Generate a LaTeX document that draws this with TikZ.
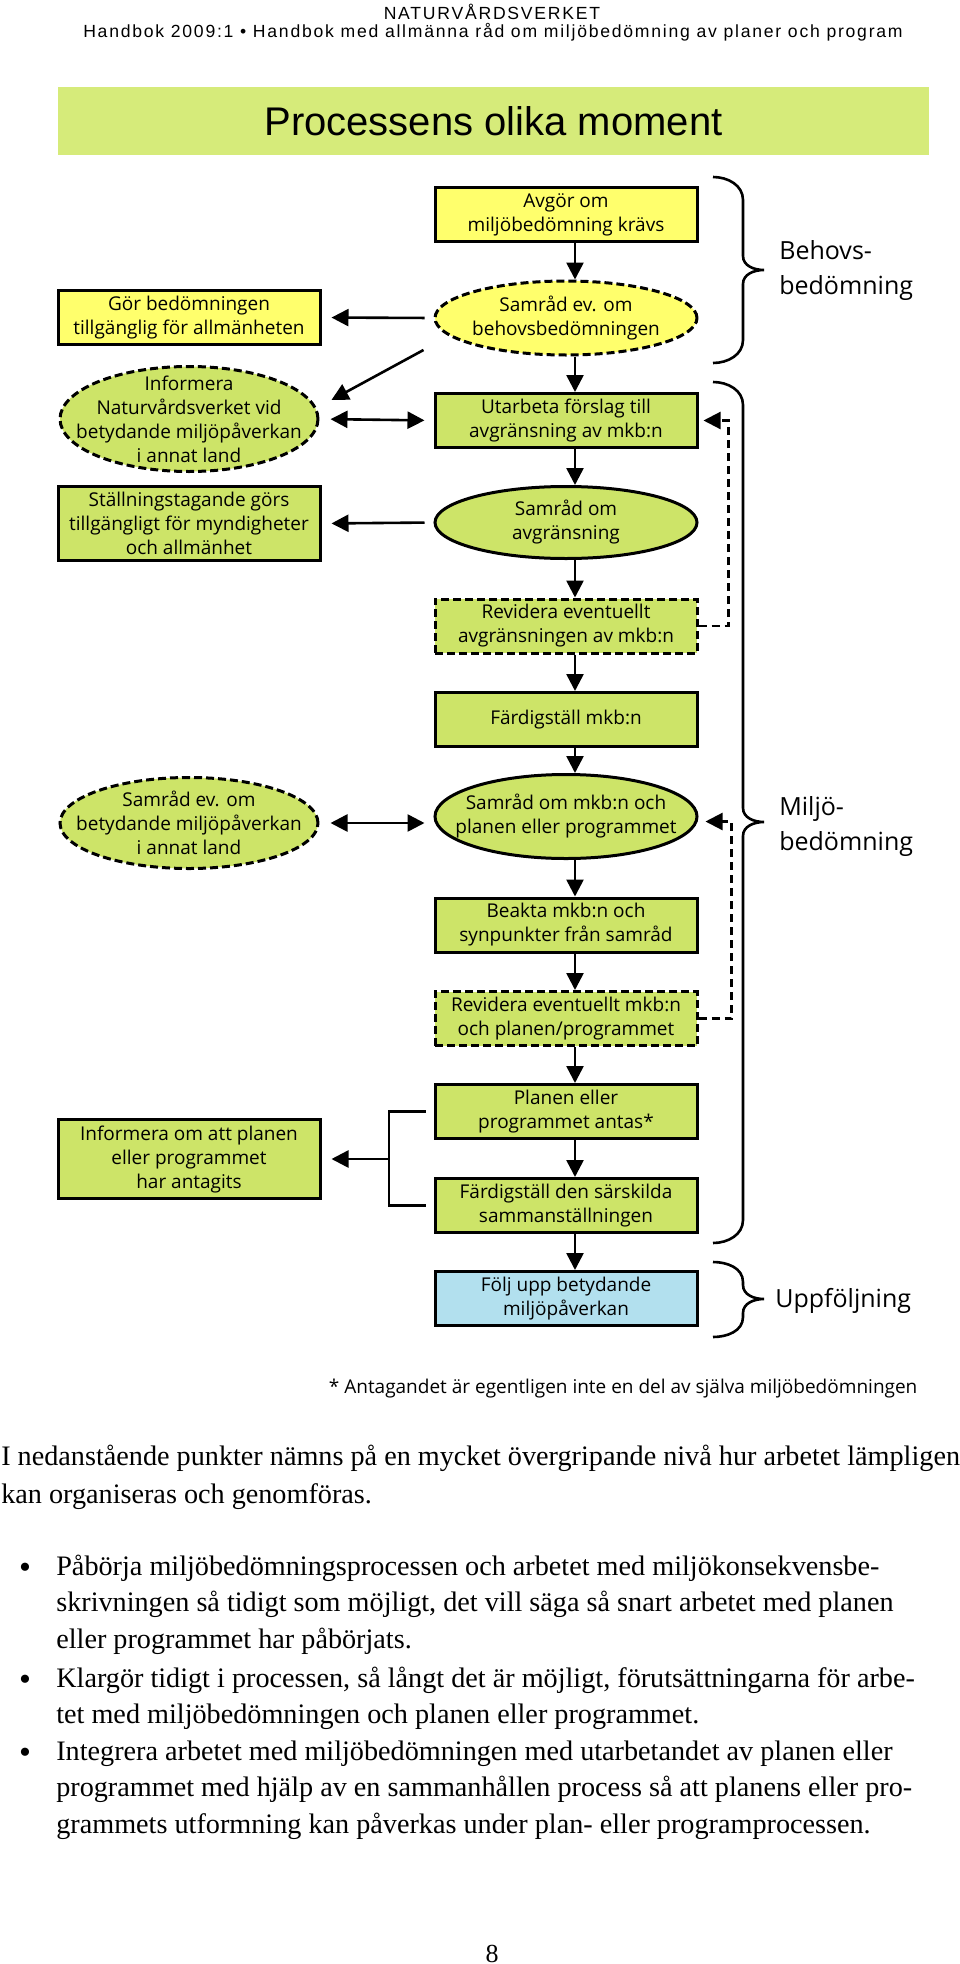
\documentclass[tikz,border=0pt]{standalone}
\usepackage{fontspec}
\setmainfont{Liberation Serif}
\setsansfont{Open Sans}
\newfontfamily\headfont[LetterSpace=10]{Liberation Sans}
\newfontfamily\titlefont{Liberation Sans}
\usetikzlibrary{arrows.meta}
\usetikzlibrary{shapes.geometric}
\usetikzlibrary{calc}
\definecolor{yellow1}{RGB}{255, 255, 108}
\definecolor{green1}{RGB}{205, 228, 104}
\definecolor{green2}{RGB}{214, 235, 122}
\definecolor{blue1}{RGB}{178, 224, 238}

\begin{document}
\begin{tikzpicture}[x=1pt, y=-1pt, line width=2.6pt, >={Triangle[length=17pt,width=17pt]},
  stepbox/.style={draw, rectangle, minimum width=262pt, minimum height=54pt, inner sep=0pt, align=center, line width=3pt, font=\sffamily\fontsize{19}{24}\selectfont},
  talk/.style={draw, ellipse, minimum width=262pt, inner sep=0pt, line width=3pt},
  talktext/.style={align=center, inner sep=0pt, font=\sffamily\fontsize{19}{24}\selectfont},
  maybe/.style={dash pattern=on 8pt off 4pt},
  back/.style={->, dash pattern=on 8pt off 5pt, line width=2.2pt},
  side/.style={anchor=west, align=left, inner sep=0pt, font=\sffamily\fontsize{25}{35}\selectfont},
  body/.style={align=left, inner sep=0pt, font=\fontsize{28.2}{36.5}\selectfont}]
  \useasboundingbox (0,0) rectangle (960,1964);
  \node[font=\headfont\fontsize{17.6}{20}\selectfont] (org) at (492,12) {NATURVÅRDSVERKET};
  \node[font=\headfont\fontsize{17.6}{20}\selectfont] (series) at (493,32) {Handbok 2009:1 • Handbok med allmänna råd om miljöbedömning av planer och program};
  \node[fill=green2, minimum width=871pt, minimum height=68pt, font=\titlefont\fontsize{40}{48}\selectfont] (title) at (493.5,121) {Processens olika moment};
  % main column
  \node[stepbox, fill=yellow1] (avgor) at (566,214.5) {Avgör om\\miljöbedömning krävs};
  \node[talk, maybe, fill=yellow1, minimum height=74pt, label={[talktext]center:{Samråd ev. om\\behovsbedömningen}}] (samradev) at (566,318) {};
  \node[stepbox, fill=green1] (utarbeta) at (566,420.5) {Utarbeta förslag till\\avgränsning av mkb:n};
  \node[talk, fill=green1, minimum height=72pt, label={[talktext]center:{Samråd om\\avgränsning}}] (samravgr) at (566,522.5) {};
  \node[stepbox, maybe, fill=green1] (revid1) at (566,626) {Revidera eventuellt\\avgränsningen av mkb:n};
  \node[stepbox, fill=green1] (fardig) at (566,719.5) {Färdigställ mkb:n};
  \node[talk, fill=green1, minimum height=84pt, label={[talktext]center:{Samråd om mkb:n och\\planen eller programmet}}] (samrmkb) at (566,816.5) {};
  \node[stepbox, fill=green1] (beakta) at (566,925) {Beakta mkb:n och\\synpunkter från samråd};
  \node[stepbox, maybe, fill=green1] (revid2) at (566,1018.5) {Revidera eventuellt mkb:n\\och planen/programmet};
  \node[stepbox, fill=green1] (planen) at (566,1111.5) {Planen eller\\programmet antas*};
  \node[stepbox, fill=green1] (sarskild) at (566,1205.5) {Färdigställ den särskilda\\sammanställningen};
  \node[stepbox, fill=blue1] (foljupp) at (566,1298.5) {Följ upp betydande\\miljöpåverkan};
  % left column
  \node[stepbox, fill=yellow1] (gorbed) at (189,317.5) {Gör bedömningen\\tillgänglig för allmänheten};
  \node[talk, maybe, fill=green1, minimum width=258pt, minimum height=105pt, label={[talktext]center:{Informera\\Naturvårdsverket vid\\betydande miljöpåverkan\\i annat land}}] (infonv) at (189,419) {};
  \node[stepbox, fill=green1, minimum height=74pt] (stalln) at (189,523.5) {Ställningstagande görs\\tillgängligt för myndigheter\\och allmänhet};
  \node[talk, maybe, fill=green1, minimum width=258pt, minimum height=91pt, label={[talktext]center:{Samråd ev. om\\betydande miljöpåverkan\\i annat land}}] (samrbet) at (189,823) {};
  \node[stepbox, fill=green1, minimum height=79pt] (infoantag) at (189,1159) {Informera om att planen\\eller programmet\\har antagits};
  \coordinate (knee) at (389,1159);
  \foreach \from/\to in {avgor/samradev, samradev/utarbeta, utarbeta/samravgr, samravgr/revid1, revid1/fardig, fardig/samrmkb, samrmkb/beakta, beakta/revid2, revid2/planen, planen/sarskild, sarskild/foljupp}
    \draw[->] ([xshift=9pt]\from.south) -- ([xshift=9pt]\to.north);
  \draw[->, shorten <=9pt, shorten >=10pt] (samradev.west) -- (gorbed.east);
  \draw[->] ([shift={(-10,32)}]samradev.west) -- ([shift={(12,-19)}]infonv.east);
  \draw[<->, shorten <=11pt, shorten >=9pt] (infonv.east) -- (utarbeta.west);
  \draw[->, shorten <=9pt, shorten >=10pt] (samravgr.west) -- (stalln.east);
  \draw[<->, shorten <=11pt, shorten >=9pt] (samrbet.east) -- (samrbet.east -| samrmkb.west);
  \draw ([xshift=-8pt]planen.west) -| (knee) |- ([xshift=-8pt]sarskild.west);
  \draw[->, shorten >=10pt] (knee) -- (infoantag.east);
  \draw[back] (revid1.east) -| ($(utarbeta.east)+(30,0)$) -- ([xshift=5pt]utarbeta.east);
  \draw[back] (revid2.east) -| ($(samrmkb.east)+(33,5)$) -- ([shift={(7,5)}]samrmkb.east);
  % braces
  \draw (713,177) to[out=0,in=90] (743,200) -- (743,256) to[out=-90,in=180] (764,270) to[out=180,in=90] (743,284) -- (743,340) to[out=-90,in=0] (713,363);
  \draw (713,382) to[out=0,in=90] (743,405) -- (743,808) to[out=-90,in=180] (764,822) to[out=180,in=90] (743,836) -- (743,1220) to[out=-90,in=0] (713,1243);
  \draw (713,1262) to[out=0,in=90] (743,1282) -- (743,1285) to[out=-90,in=180] (764,1299) to[out=180,in=90] (743,1313) -- (743,1317) to[out=-90,in=0] (713,1337);
  \node[side] (behov) at (778,271) {Behovs-\\bedömning};
  \node[side] (miljo) at (778,826) {Miljö-\\bedömning};
  \node[side] (uppf) at (774,1301) {Uppföljning};
  \node[anchor=east, font=\sffamily\fontsize{19}{22}\selectfont] (note) at (922,1389) {* Antagandet är egentligen inte en del av själva miljöbedömningen};
  % text below
  \node[body, anchor=base west, font=\fontsize{28.2}{38}\selectfont] (intro) at (0,1503) {I nedanstående punkter nämns på en mycket övergripande nivå hur arbetet lämpligen\\kan organiseras och genomföras.};
  \foreach \y/\n in {1578/dot1, 1690/dot2, 1763/dot3}
    \node[body, anchor=base, font=\fontsize{34}{36.5}\selectfont] (\n) at (25,\y) {•};
  \node[body, anchor=base west] (item1) at (55,1648) {Påbörja miljöbedömningsprocessen och arbetet med miljökonsekvensbe-\\skrivningen så tidigt som möjligt, det vill säga så snart arbetet med planen\\eller programmet har påbörjats.};
  \node[body, anchor=base west] (item2) at (55,1723.5) {Klargör tidigt i processen, så långt det är möjligt, förutsättningarna för arbe-\\tet med miljöbedömningen och planen eller programmet.};
  \node[body, anchor=base west] (item3) at (55,1833) {Integrera arbetet med miljöbedömningen med utarbetandet av planen eller\\programmet med hjälp av en sammanhållen process så att planens eller pro-\\grammets utformning kan påverkas under plan- eller programprocessen.};
  \node[font=\fontsize{26}{30}\selectfont, anchor=base] (pagenr) at (492,1962) {8};
\end{tikzpicture}
\end{document}
